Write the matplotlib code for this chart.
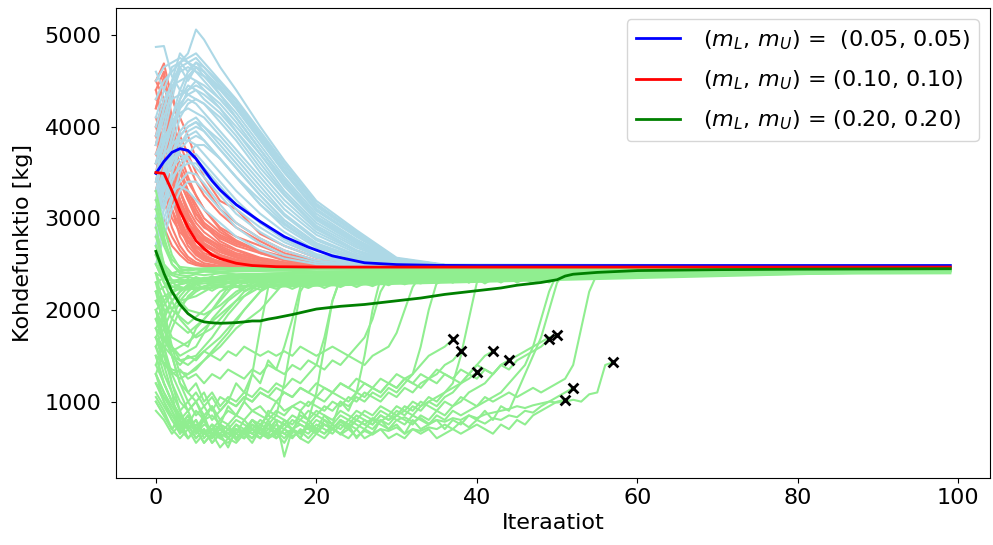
import matplotlib
matplotlib.use("Agg")
import matplotlib.pyplot as plt
import numpy as np

LAST = 99

# mean curves
blue_mean_iters = [0, 1, 2, 3, 4, 5, 6, 7, 8, 10, 13, 16, 19, 22, 26, 30, 35, 40, 99]
blue_mean_vals = [3490, 3620, 3720, 3760, 3740, 3650, 3530, 3410, 3310, 3150, 2965, 2800,
                  2685, 2590, 2515, 2495, 2487, 2485, 2485]
red_mean_iters = [0, 1, 2, 3, 4, 5, 6, 7, 8, 10, 12, 15, 20, 99]
red_mean_vals = [3500, 3490, 3300, 3080, 2900, 2755, 2670, 2600, 2560, 2510, 2485, 2472, 2468, 2468]
green_mean_iters = [0, 1, 2, 3, 4, 5, 6, 7, 8, 9, 10, 11, 12, 13, 14, 15, 17, 20, 23, 26, 30,
                    33, 36, 40, 43, 45, 48, 50, 51, 52, 55, 60, 70, 80, 99]
green_mean_vals = [2640, 2400, 2200, 2060, 1960, 1900, 1870, 1860, 1855, 1858, 1862, 1870, 1880,
                   1880, 1900, 1915, 1950, 2010, 2040, 2060, 2100, 2130, 2170, 2210, 2240, 2270,
                   2300, 2330, 2370, 2390, 2410, 2430, 2440, 2445, 2450]

labels = [r"$(m_L,\, m_U)$ =  (0.05, 0.05)",
          r"$(m_L,\, m_U)$ = (0.10, 0.10)",
          r"$(m_L,\, m_U)$ = (0.20, 0.20)"]

# single runs, (m_L, m_U) = (0.05, 0.05)
blue_iters = [0, 1, 2, 3, 4, 5, 6, 8, 10, 13, 16, 20, 25, 30, 36, 99]
blue_runs = [
    [4870, 4880, 4550, 4400, 4350, 4300, 4250, 4100, 3900, 3550, 3250, 2900, 2650, 2520, 2490, 2485],
    [3600, 4000, 4400, 4700, 4800, 5060, 4950, 4650, 4400, 4000, 3630, 3190, 2870, 2570, 2495, 2485],
    [3400, 3900, 4300, 4650, 4700, 4600, 4550, 4400, 4200, 3850, 3500, 3100, 2800, 2560, 2490, 2485],
    [3300, 3700, 4100, 4400, 4600, 4700, 4650, 4450, 4250, 3900, 3550, 3130, 2830, 2550, 2490, 2485],
    [3800, 4200, 4500, 4650, 4500, 4650, 4600, 4350, 4150, 3800, 3450, 3050, 2770, 2540, 2490, 2485],
    [3200, 3550, 3900, 4200, 4400, 4500, 4450, 4300, 4100, 3750, 3400, 3000, 2730, 2530, 2488, 2485],
    [3500, 3800, 4100, 4300, 4450, 4400, 4350, 4200, 3950, 3650, 3300, 2950, 2700, 2520, 2487, 2485],
    [3000, 3400, 3800, 4100, 4250, 4300, 4250, 4050, 3850, 3500, 3200, 2880, 2650, 2510, 2486, 2485],
    [3700, 3900, 4000, 4150, 4200, 4150, 4100, 3900, 3700, 3400, 3100, 2820, 2620, 2500, 2486, 2485],
    [2900, 3300, 3700, 3950, 4050, 4100, 4000, 3800, 3600, 3300, 3030, 2760, 2590, 2495, 2485, 2485],
    [3100, 3400, 3600, 3800, 3900, 3950, 3850, 3650, 3450, 3150, 2930, 2700, 2560, 2490, 2485, 2485],
    [3300, 3500, 3700, 3850, 3850, 3800, 3700, 3500, 3300, 3050, 2850, 2650, 2530, 2488, 2485, 2485],
    [2800, 3100, 3400, 3600, 3700, 3700, 3600, 3400, 3200, 2950, 2780, 2610, 2510, 2486, 2485, 2485],
    [3500, 3600, 3650, 3700, 3650, 3550, 3450, 3250, 3050, 2850, 2700, 2570, 2500, 2486, 2485, 2485],
    [2700, 3000, 3250, 3400, 3500, 3480, 3380, 3150, 2950, 2780, 2650, 2540, 2495, 2485, 2485, 2485],
    [3000, 3150, 3300, 3350, 3300, 3200, 3100, 2950, 2800, 2650, 2560, 2500, 2487, 2485, 2485, 2485],
    [4000, 4300, 4450, 4500, 4550, 4500, 4400, 4200, 4000, 3700, 3350, 2980, 2720, 2530, 2490, 2485],
    [4300, 4500, 4600, 4700, 4750, 4800, 4700, 4500, 4300, 3950, 3600, 3160, 2850, 2560, 2490, 2485],
    [3900, 4200, 4500, 4800, 4700, 4750, 4650, 4480, 4280, 3920, 3580, 3150, 2840, 2555, 2490, 2485],
    [2600, 2900, 3200, 3500, 3700, 3800, 3800, 3650, 3450, 3150, 2900, 2680, 2550, 2488, 2485, 2485],
    [3600, 3700, 3800, 3900, 4000, 4050, 3950, 3750, 3550, 3250, 2980, 2730, 2570, 2490, 2485, 2485],
    [3200, 3300, 3450, 3550, 3600, 3600, 3500, 3300, 3100, 2900, 2740, 2590, 2505, 2486, 2485, 2485],
    [4500, 4650, 4700, 4750, 4700, 4650, 4550, 4350, 4100, 3750, 3420, 3020, 2760, 2540, 2490, 2485],
    [2900, 3200, 3500, 3800, 3950, 4000, 3950, 3750, 3550, 3250, 2980, 2720, 2575, 2492, 2485, 2485],
    [3400, 3700, 4000, 4250, 4350, 4400, 4300, 4150, 3950, 3600, 3270, 2920, 2680, 2515, 2487, 2485],
    [3800, 4100, 4400, 4600, 4650, 4600, 4500, 4300, 4100, 3750, 3400, 3010, 2750, 2535, 2489, 2485],
    [3100, 3500, 3900, 4300, 4550, 4650, 4600, 4420, 4220, 3880, 3520, 3100, 2810, 2550, 2490, 2485],
    [2700, 3100, 3500, 3750, 3850, 3900, 3850, 3650, 3450, 3200, 2950, 2700, 2560, 2490, 2485, 2485],
    [3300, 3450, 3550, 3650, 3700, 3650, 3550, 3350, 3150, 2950, 2770, 2600, 2510, 2487, 2485, 2485],
    [4100, 4400, 4650, 4700, 4600, 4700, 4600, 4420, 4200, 3850, 3500, 3080, 2800, 2545, 2490, 2485],
    [3600, 3850, 4050, 4200, 4300, 4250, 4150, 3950, 3750, 3450, 3150, 2850, 2640, 2505, 2486, 2485],
    [2500, 2800, 3100, 3300, 3400, 3400, 3300, 3100, 2900, 2720, 2600, 2520, 2490, 2485, 2485, 2485],
    [3000, 3350, 3650, 3900, 4000, 4050, 4000, 3850, 3650, 3350, 3050, 2780, 2600, 2497, 2485, 2485],
    [4600, 4400, 4300, 4350, 4400, 4450, 4400, 4250, 4050, 3700, 3380, 3000, 2740, 2535, 2490, 2485],
]

# single runs, (m_L, m_U) = (0.10, 0.10)
red_iters = [0, 1, 2, 3, 4, 5, 6, 8, 10, 13, 16, 20, 25, 30, 99]
red_runs = [
    [4500, 4690, 4300, 4100, 3900, 3650, 3450, 3190, 3100, 2830, 2700, 2570, 2500, 2470, 2465],
    [4200, 4550, 4400, 3900, 3700, 3500, 3350, 3100, 2950, 2780, 2650, 2540, 2490, 2468, 2465],
    [4000, 4300, 3800, 3600, 3400, 3250, 3100, 2900, 2800, 2700, 2600, 2520, 2480, 2466, 2465],
    [3800, 4100, 3700, 3300, 3100, 2950, 2850, 2720, 2650, 2560, 2510, 2480, 2468, 2465, 2465],
    [4400, 4000, 3600, 3300, 3050, 2850, 2720, 2600, 2540, 2500, 2480, 2470, 2466, 2465, 2465],
    [3600, 3900, 3500, 3100, 2850, 2700, 2600, 2520, 2490, 2475, 2468, 2466, 2465, 2465, 2465],
    [3300, 3700, 3300, 2900, 2700, 2600, 2540, 2500, 2480, 2470, 2466, 2465, 2465, 2465, 2465],
    [3500, 3400, 3100, 2800, 2650, 2560, 2510, 2480, 2470, 2466, 2465, 2465, 2465, 2465, 2465],
    [3000, 3200, 2900, 2700, 2580, 2520, 2490, 2470, 2466, 2465, 2465, 2465, 2465, 2465, 2465],
    [2800, 3000, 2800, 2650, 2550, 2500, 2480, 2468, 2465, 2465, 2465, 2465, 2465, 2465, 2465],
    [3900, 3600, 3400, 3200, 3000, 2900, 2800, 2680, 2600, 2540, 2500, 2480, 2470, 2466, 2465],
    [3700, 4000, 3800, 3500, 3300, 3100, 2950, 2780, 2700, 2620, 2560, 2500, 2475, 2466, 2465],
    [4300, 4200, 3700, 3400, 3200, 3000, 2900, 2800, 2720, 2650, 2580, 2510, 2478, 2466, 2465],
    [3200, 3500, 3200, 3000, 2800, 2650, 2580, 2530, 2500, 2480, 2470, 2466, 2465, 2465, 2465],
    [4100, 3800, 3500, 3000, 2750, 2620, 2560, 2510, 2490, 2475, 2468, 2465, 2465, 2465, 2465],
    [2600, 2900, 2700, 2600, 2520, 2490, 2475, 2466, 2465, 2465, 2465, 2465, 2465, 2465, 2465],
    [3400, 3800, 3600, 3400, 3200, 3050, 2950, 2820, 2740, 2640, 2570, 2505, 2475, 2466, 2465],
    [3100, 3300, 3000, 2850, 2750, 2680, 2620, 2560, 2520, 2490, 2475, 2468, 2465, 2465, 2465],
    [4500, 4300, 3900, 3500, 3250, 3050, 2920, 2750, 2660, 2570, 2520, 2485, 2470, 2465, 2465],
    [3600, 3500, 3300, 3100, 2950, 2820, 2730, 2630, 2570, 2510, 2485, 2470, 2466, 2465, 2465],
    [4400, 4600, 4100, 3800, 3600, 3400, 3250, 3050, 2900, 2750, 2620, 2530, 2485, 2467, 2465],
    [3900, 4300, 4000, 3700, 3450, 3250, 3100, 2880, 2760, 2640, 2560, 2500, 2472, 2465, 2465],
    [3300, 3600, 3400, 3150, 2950, 2800, 2700, 2600, 2550, 2500, 2478, 2468, 2465, 2465, 2465],
    [4000, 3700, 3300, 2950, 2750, 2640, 2570, 2500, 2475, 2466, 2465, 2465, 2465, 2465, 2465],
    [3700, 3500, 3200, 2950, 2800, 2700, 2650, 2580, 2530, 2490, 2474, 2466, 2465, 2465, 2465],
    [2900, 3300, 3100, 2900, 2750, 2650, 2580, 2520, 2490, 2472, 2466, 2465, 2465, 2465, 2465],
    [4200, 4500, 4000, 3550, 3300, 3150, 3000, 2850, 2750, 2620, 2540, 2490, 2470, 2465, 2465],
    [3500, 3900, 3700, 3300, 3050, 2900, 2780, 2650, 2580, 2520, 2485, 2470, 2466, 2465, 2465],
    [3800, 4200, 3600, 3200, 3000, 2880, 2800, 2700, 2620, 2560, 2515, 2478, 2467, 2465, 2465],
    [3100, 3400, 3300, 3100, 2950, 2850, 2760, 2660, 2600, 2540, 2500, 2475, 2466, 2465, 2465],
]

# single runs, (m_L, m_U) = (0.20, 0.20), the ones that stay in the upper band
green_iters = [0, 1, 2, 3, 4, 5, 6, 8, 10, 15, 20, 30, 40, 50, 60, 80, 99]
green_runs = [
    [3300, 2900, 2600, 2450, 2430, 2440, 2430, 2440, 2450, 2445, 2450, 2450, 2455, 2455, 2455, 2455, 2455],
    [3000, 2700, 2500, 2420, 2400, 2410, 2420, 2410, 2420, 2430, 2420, 2430, 2440, 2445, 2450, 2450, 2450],
    [2800, 2500, 2400, 2380, 2370, 2390, 2380, 2400, 2390, 2400, 2410, 2400, 2420, 2430, 2440, 2445, 2445],
    [2600, 2450, 2380, 2350, 2360, 2340, 2350, 2360, 2350, 2370, 2380, 2390, 2400, 2420, 2430, 2440, 2440],
    [2400, 2350, 2320, 2330, 2310, 2320, 2330, 2320, 2340, 2350, 2360, 2370, 2380, 2400, 2420, 2430, 2435],
    [2200, 2250, 2300, 2310, 2320, 2300, 2310, 2300, 2320, 2330, 2340, 2350, 2370, 2390, 2410, 2420, 2430],
    [2000, 2100, 2200, 2280, 2300, 2320, 2340, 2330, 2350, 2360, 2370, 2380, 2390, 2410, 2420, 2430, 2440],
    [1800, 1950, 2100, 2200, 2280, 2300, 2320, 2340, 2360, 2370, 2380, 2390, 2400, 2420, 2430, 2440, 2445],
    [1600, 1800, 2000, 2150, 2250, 2300, 2330, 2350, 2370, 2390, 2400, 2410, 2420, 2430, 2440, 2445, 2450],
    [1400, 1650, 1900, 2100, 2200, 2280, 2320, 2360, 2380, 2400, 2410, 2420, 2430, 2440, 2445, 2450, 2450],
    [3100, 2750, 2550, 2470, 2460, 2450, 2455, 2460, 2455, 2460, 2460, 2460, 2460, 2460, 2460, 2460, 2460],
    [2500, 2300, 2250, 2280, 2300, 2350, 2330, 2370, 2380, 2390, 2400, 2410, 2420, 2430, 2440, 2445, 2450],
    [2900, 2500, 2300, 2250, 2230, 2250, 2240, 2260, 2250, 2270, 2280, 2300, 2320, 2360, 2400, 2420, 2430],
    [2100, 2150, 2200, 2230, 2220, 2240, 2230, 2250, 2260, 2280, 2290, 2310, 2340, 2380, 2410, 2425, 2435],
    [1700, 1900, 2100, 2200, 2260, 2280, 2290, 2300, 2310, 2320, 2330, 2350, 2370, 2400, 2420, 2435, 2440],
    [2300, 2350, 2400, 2430, 2440, 2450, 2445, 2450, 2455, 2450, 2455, 2455, 2458, 2458, 2458, 2458, 2458],
    [3200, 2800, 2500, 2400, 2410, 2400, 2420, 2420, 2430, 2430, 2440, 2440, 2445, 2450, 2450, 2450, 2450],
    [1300, 1550, 1800, 2000, 2150, 2230, 2260, 2280, 2300, 2310, 2320, 2340, 2360, 2390, 2420, 2440, 2445],
]

# green runs that dip first and climb back by iteration ~16, (iteration, value)
green_mid = [
    [(0, 2300), (2, 1900), (4, 1750), (6, 1900), (8, 2100), (10, 2300), (12, 2350), (99, 2440)],
    [(0, 2100), (2, 1700), (4, 1600), (5, 1800), (7, 2000), (9, 2250), (11, 2320), (99, 2430)],
    [(0, 1900), (1, 1700), (3, 1500), (5, 1600), (7, 1900), (9, 2100), (12, 2300), (99, 2420)],
    [(0, 2500), (2, 2100), (3, 1900), (5, 1700), (7, 1800), (9, 2000), (11, 2200), (14, 2330), (99, 2430)],
    [(0, 1700), (2, 1500), (4, 1400), (6, 1550), (8, 1700), (10, 1900), (12, 2100), (14, 2300), (99, 2440)],
    [(0, 2200), (1, 2000), (3, 2050), (5, 2200), (7, 2300), (99, 2440)],
    [(0, 1500), (2, 1350), (4, 1300), (6, 1450), (8, 1600), (10, 1800), (13, 2000), (16, 2300), (99, 2440)],
    [(0, 2700), (2, 2200), (4, 2000), (6, 1950), (8, 2050), (10, 2200), (13, 2330), (99, 2430)],
    [(0, 2000), (2, 1600), (3, 1450), (5, 1500), (7, 1700), (9, 1950), (11, 2150), (13, 2300), (99, 2430)],
    [(0, 1600), (1, 1400), (3, 1250), (5, 1350), (7, 1550), (9, 1750), (11, 2000), (13, 2200), (15, 2300), (99, 2440)],
    [(0, 2400), (2, 2000), (4, 1850), (6, 2000), (8, 2200), (10, 2300), (99, 2430)],
    [(0, 1800), (2, 1550), (4, 1650), (6, 1800), (8, 1950), (10, 2100), (13, 2250), (99, 2430)],
    [(0, 2600), (1, 2300), (3, 2100), (5, 2150), (7, 2250), (99, 2440)],
]

# green runs read iteration by iteration from 0; second item is the value kept
# up to iteration 99, None when the run stops there (drawn with an x)
green_low = [
    ([1050, 900, 700, 850, 750, 900, 800, 850, 750, 950, 850, 1000, 1300, 1800, 2250, 2350], 2440),
    ([1600, 1300, 1100, 650, 800, 700, 850, 620, 750, 600, 700, 650, 800, 700, 900, 850, 1200, 1700,
      2200, 2350], 2430),
    ([1900, 1600, 1300, 1100, 900, 1000, 800, 950, 700, 600, 750, 650, 800, 700, 650, 800, 400, 700,
      600, 800, 700, 850, 750, 1000, 900, 1100, 1500, 2000, 2350], 2440),
    ([1400, 1200, 1000, 850, 750, 600, 700, 550, 650, 500, 700, 600, 750, 650, 800, 600, 700, 650,
      900, 800, 1100, 1600, 2100, 2350], 2440),
    ([2200, 1800, 1500, 1200, 1100, 1000, 1100, 900, 1050, 1000, 1200, 1100, 1300, 1200, 1450, 1350,
      1600, 1900, 2250, 2350], 2440),
    ([1200, 1050, 900, 700, 850, 650, 800, 600, 750, 700, 650, 800, 700, 600, 750, 650, 800, 700, 600,
      750, 650, 800, 700, 650, 750, 600, 700, 650, 800, 700, 750, 650, 800, 700, 750, 800, 700, 800,
      750, 850, 800, 900, 800, 950, 900, 1100, 1300, 1500, 1700, 2000, 2300, 2400], 2440),
    ([1300, 1100, 950, 800, 900, 700, 800, 650, 750, 600, 700, 650, 550, 700, 600, 650, 550, 700, 600,
      550, 650, 600, 700, 650, 600, 700, 600, 650, 700, 600, 650, 600, 700, 650, 700, 600, 650, 700,
      650, 700, 750, 700, 650, 750, 700, 800, 750, 850, 900, 950, 1000, 1020], None),
    ([1500, 1200, 1000, 850, 700, 800, 650, 750, 600, 700, 580, 680, 600, 720, 650, 600, 700, 620,
      680, 600, 700, 650, 720, 640, 700, 620, 680, 640, 700, 680, 720, 650, 700, 680, 720, 700, 750,
      700, 780, 720, 800, 760, 820, 800, 850, 830, 900, 880, 950, 1000, 1050, 1100, 1150], None),
    ([1000, 850, 700, 800, 600, 700, 550, 650, 500, 600, 550, 650, 600, 700, 620, 680, 600, 700, 650,
      720, 680, 750, 700, 780, 720, 800, 750, 820, 780, 850, 800, 830, 780, 820, 760, 800, 780, 820,
      800, 850, 820, 860, 880, 900, 920, 950, 930, 960, 980, 1000, 990, 1000, 1020, 1000, 1080, 1100,
      1400, 1430], None),
    ([1800, 1500, 1200, 1000, 900, 1000, 850, 950, 800, 900, 850, 1000, 900, 950, 850, 1000, 900, 950,
      1000, 950, 1050, 1000, 1100, 1050, 1000, 1100, 1050, 1150, 1100, 1200, 1150, 1250, 1300, 1400,
      1500, 1550, 1600, 1680], None),
    ([1100, 950, 800, 700, 800, 650, 750, 700, 800, 750, 850, 800, 900, 850, 800, 900, 850, 950, 900,
      1000, 950, 900, 1000, 950, 1050, 1000, 1100, 1050, 1000, 1100, 1050, 1150, 1100, 1200, 1250,
      1300, 1400, 1450, 1550], None),
    ([2000, 1600, 1200, 900, 700, 800, 600, 700, 650, 750, 600, 700, 650, 750, 700, 800, 750, 700, 800,
      750, 850, 800, 750, 850, 800, 900, 850, 800, 900, 850, 950, 900, 1000, 950, 1050, 1000, 1100,
      1150, 1200, 1250, 1320], None),
    ([1300, 1000, 800, 650, 750, 600, 700, 550, 650, 600, 700, 650, 750, 700, 650, 750, 700, 800, 750,
      700, 800, 750, 700, 800, 750, 850, 800, 750, 850, 800, 900, 850, 950, 900, 1000, 950, 1050, 1100,
      1200, 1300, 1400, 1500, 1550], None),
    ([900, 800, 650, 750, 600, 700, 550, 650, 600, 550, 650, 600, 700, 650, 600, 700, 650, 600, 700,
      650, 750, 700, 650, 750, 700, 800, 750, 700, 800, 750, 850, 800, 750, 850, 800, 900, 850, 950,
      1000, 1100, 1150, 1200, 1300, 1400, 1450], None),
    ([1700, 1400, 1100, 900, 1000, 850, 950, 800, 900, 1000, 950, 1050, 1000, 1100, 1050, 1000, 1100,
      1050, 1150, 1100, 1050, 1150, 1100, 1200, 1150, 1100, 1200, 1150, 1100, 1200, 1150, 1250, 1200,
      1150, 1250, 1200, 1300, 1250, 1200, 1300, 1250, 1350, 1300, 1400, 1350, 1450, 1500, 1550, 1600,
      1680], None),
    ([2300, 1900, 1500, 1200, 1000, 1100, 950, 1050, 900, 1000, 950, 1050, 1000, 1100, 1050, 1150,
      1100, 1050, 1150, 1100, 1200, 1150, 1100, 1200, 1150, 1250, 1200, 1150, 1250, 1200, 1300, 1250,
      1200, 1300, 1250, 1350, 1300, 1250, 1350, 1300, 1400, 1350, 1300, 1400, 1450, 1500, 1550, 1600,
      1650, 1700, 1730], None),
    ([2000, 1700, 1500, 1400, 1500, 1450, 1550, 1500, 1450, 1550, 1500, 1600, 1550, 1500, 1550, 1500,
      1550, 1500, 1600, 1550, 1500, 1550, 1600, 1550, 1500, 1600, 1700, 1900, 2200, 2350], 2440),
    ([1200, 1000, 850, 700, 600, 700, 650, 750, 700, 650, 750, 700, 800, 750, 850, 800, 750, 850, 800,
      900, 850, 950, 900, 1000, 950, 1050, 1000, 1100, 1050, 1150, 1100, 1200, 1300, 1600, 2000, 2300,
      2400], 2440),
    ([1500, 1200, 1000, 800, 700, 750, 650, 700, 600, 700, 650, 600, 700, 650, 750, 700, 650, 700, 750,
      700, 650, 750, 700, 800, 750, 700, 800, 750, 850, 800, 850, 900, 850, 950, 1000, 1050, 1100, 1200,
      1500, 1900, 2300, 2400], 2440),
    ([1000, 850, 700, 600, 700, 550, 650, 600, 700, 650, 600, 700, 650, 600, 700, 650, 750, 700, 650,
      750, 700, 650, 750, 700, 800, 750, 700, 800, 750, 700, 800, 750, 850, 800, 750, 850, 800, 900,
      850, 900, 950, 1000, 1050, 1100, 1200, 1300, 1400, 1600, 1900, 2200, 2400], 2440),
    ([1300, 1100, 900, 750, 850, 700, 800, 650, 750, 700, 800, 750, 700, 800, 750, 850, 800, 750, 850,
      800, 900, 850, 800, 900, 850, 800, 900, 850, 950, 900, 850, 950, 900, 1000, 950, 900, 1000, 950,
      1050, 1000, 950, 1050, 1000, 1050, 1100, 1050, 1100, 1150, 1100, 1150, 1200, 1250, 1400, 1800,
      2200, 2400], 2440),
    ([2400, 2000, 1600, 1300, 1100, 1200, 1000, 1100, 950, 1050, 1000, 1100, 1050, 1150, 1100, 1200,
      1150, 1250, 1200, 1300, 1400, 1700, 2100, 2350], 2440),
    ([1700, 1500, 1300, 1350, 1250, 1300, 1200, 1300, 1250, 1350, 1300, 1250, 1350, 1300, 1400, 1350,
      1300, 1400, 1350, 1450, 1400, 1350, 1450, 1400, 1500, 1450, 1400, 1500, 1550, 1600, 1750, 2000,
      2250, 2380], 2440),
    ([2700, 2450, 2330, 2290, 2340, 2290, 2340, 2300, 2350, 2300, 2340, 2290, 2340, 2300, 2350, 2300,
      2340, 2290, 2340, 2300, 2350, 2300, 2340, 2290, 2340, 2300, 2350, 2300, 2340, 2290, 2340, 2300,
      2350, 2300, 2340, 2290, 2340, 2300, 2350, 2300, 2340, 2290, 2340, 2300, 2350, 2300, 2340, 2290,
      2340, 2300, 2350, 2370, 2390], 2410),
    ([2200, 2250, 2300, 2340, 2310, 2360, 2320, 2370, 2330, 2380, 2340, 2370, 2330, 2380, 2340, 2370,
      2330, 2380, 2340, 2370, 2330, 2380, 2340, 2370, 2330, 2380, 2340, 2370, 2330, 2380, 2340, 2380,
      2350, 2390, 2360, 2400, 2370, 2400, 2380, 2410, 2390, 2420], 2430),
    ([2500, 2350, 2260, 2220, 2260, 2210, 2250, 2210, 2260, 2220, 2260, 2210, 2250, 2220, 2260, 2230,
      2270, 2230, 2270, 2240, 2280, 2240, 2280, 2250, 2290, 2250, 2290, 2260, 2300, 2270, 2310, 2280,
      2310, 2290, 2320, 2290, 2330, 2300, 2340, 2300, 2340, 2310, 2340, 2310, 2350, 2320, 2350, 2320,
      2360, 2330, 2360, 2370, 2380, 2390], 2400),
    ([1900, 2050, 2180, 2250, 2230, 2280, 2240, 2290, 2250, 2300, 2250, 2300, 2260, 2310, 2270, 2320,
      2280, 2320, 2290, 2330, 2290, 2340, 2300, 2340, 2310, 2350, 2320, 2360, 2330, 2360, 2340, 2370,
      2350, 2380, 2350, 2390, 2360, 2390, 2370, 2400], 2420),
]

fig = plt.figure(figsize=(9.93, 5.45), dpi=100)
ax = fig.add_subplot(111)
fig.subplots_adjust(left=0.117, right=0.997, bottom=0.123, top=0.985)

lw_run = 1.5
for run in red_runs:
    ax.plot(red_iters, run, color="salmon", lw=lw_run)
for run in blue_runs:
    ax.plot(blue_iters, run, color="lightblue", lw=lw_run)
for run in green_runs:
    ax.plot(green_iters, run, color="lightgreen", lw=lw_run)
for run in green_mid:
    xs, ys = zip(*run)
    ax.plot(xs, ys, color="lightgreen", lw=lw_run)

stops_x, stops_y = [], []
for vals, tail in green_low:
    xs = list(range(len(vals)))
    ys = list(vals)
    if tail is None:
        stops_x.append(xs[-1])
        stops_y.append(ys[-1])
    else:
        xs.append(LAST)
        ys.append(tail)
    ax.plot(xs, ys, color="lightgreen", lw=lw_run)

ax.plot(blue_mean_iters, blue_mean_vals, color="blue", lw=2, label=labels[0])
ax.plot(red_mean_iters, red_mean_vals, color="red", lw=2, label=labels[1])
ax.plot(green_mean_iters, green_mean_vals, color="green", lw=2, label=labels[2])
ax.scatter(stops_x, stops_y, marker="x", color="black", s=50, linewidths=2, zorder=5)

ax.set_xlabel("Iteraatiot", fontsize=16)
ax.set_ylabel("Kohdefunktio [kg]", fontsize=16, labelpad=8)
ax.tick_params(labelsize=16)
ax.tick_params(axis="y", pad=7)
ax.legend(loc="upper right", fontsize=16, labelspacing=0.75, handletextpad=1.0)

fig.savefig("out.png", dpi=100)
